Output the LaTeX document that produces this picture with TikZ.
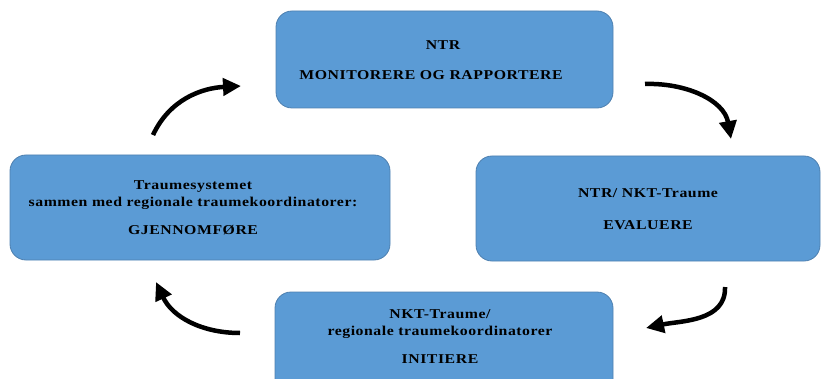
\documentclass[tikz,border=0pt]{standalone}
\usepackage{fontspec}
\usetikzlibrary{arrows.meta}
\newfontfamily\boxfont{Liberation Serif}[FakeStretch=1.17,LetterSpace=4]
\definecolor{boxblue}{RGB}{91,155,213}
\definecolor{boxedge}{RGB}{78,128,176}
\begin{document}
\begin{tikzpicture}[x=1pt,y=1pt,
  phase/.style={draw=boxedge, line width=0.8pt, fill=boxblue, rounded corners=16pt, inner sep=0pt},
  boxtext/.style={font=\boxfont\bfseries\fontsize{13.5}{17}\selectfont, align=center, text=black, inner sep=0pt},
  cyclearrow/.style={line width=4.5pt, -{Triangle[length=18pt,width=17pt]}}]
\useasboundingbox (0,0) rectangle (821,378);
% boxes
\node[phase, minimum width=337pt, minimum height=97pt] (top) at (444.5,318.5) {};
\node[phase, minimum width=380pt, minimum height=105pt] (left) at (200,170.5) {};
\node[phase, minimum width=344pt, minimum height=105pt] (right) at (648,169.5) {};
\node[phase, minimum width=338pt, minimum height=105pt] (bottom) at (444,33.5) {};
% texts
\node[boxtext] (t1) at (443,333) {NTR};
\node[boxtext] (t2) at (431,303) {MONITORERE OG RAPPORTERE};
\node[boxtext] (l1) at (193,170.5) {Traumesystemet\\ sammen med regionale traumekoordinatorer:\\[11pt] GJENNOMFØRE};
\node[boxtext] (r1) at (648,169) {NTR/ NKT-Traume\\[15pt] EVALUERE};
\node[boxtext] (b1) at (440,41) {NKT-Traume/\\ regionale traumekoordinatorer\\[11pt] INITIERE};
% arrow end points
\coordinate (a1s) at (153,243);
\coordinate (a1e) at (241,292);
\coordinate (a2s) at (645,294);
\coordinate (a2e) at (731,239);
\coordinate (a3s) at (725,91);
\coordinate (a3e) at (646,50);
\coordinate (a4s) at (240,45);
\coordinate (a4e) at (156,96);
\draw[cyclearrow] (a1s) to[out=65,in=183] (a1e);
\draw[cyclearrow] (a2s) to[out=2,in=100] (a2e);
\draw[cyclearrow] (a3s) to[out=-88,in=12] (a3e);
\draw[cyclearrow] (a4s) to[out=180,in=-65] (a4e);
\end{tikzpicture}
\end{document}
